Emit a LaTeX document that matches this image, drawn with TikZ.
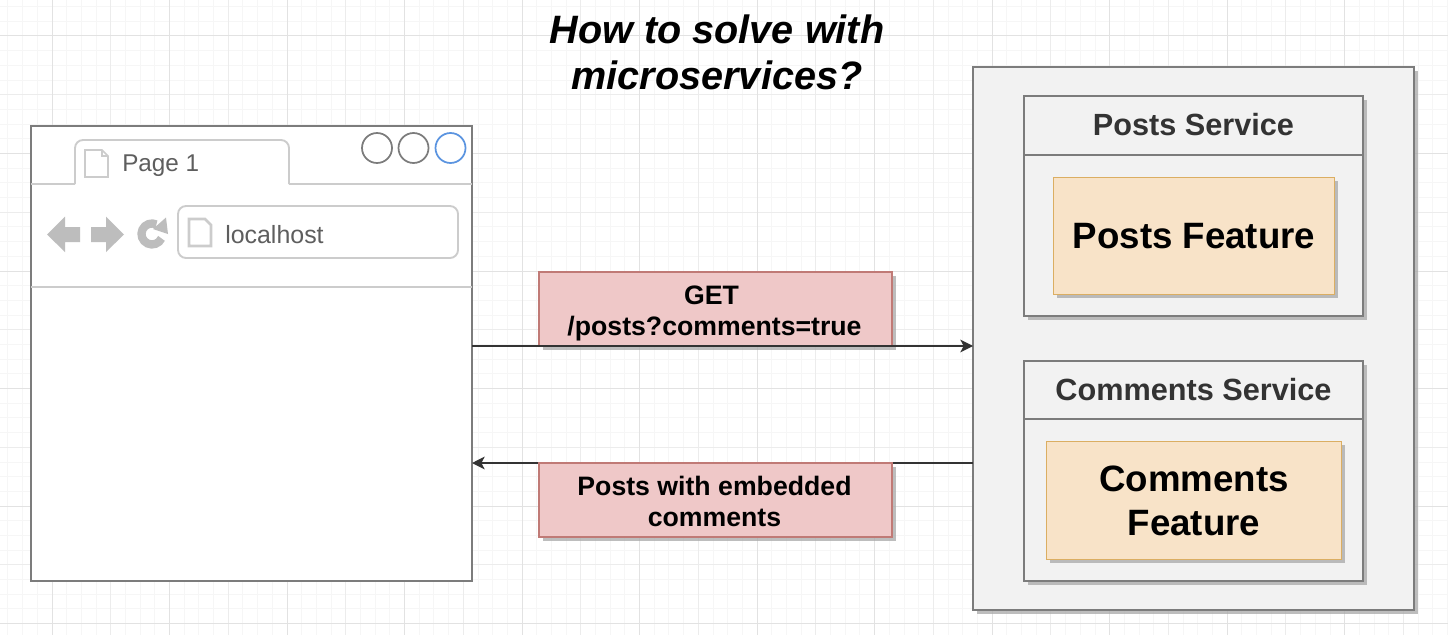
\documentclass[tikz,border=0pt]{standalone}
\usepackage{fontspec}
\setmainfont{Liberation Sans}
\usetikzlibrary{arrows.meta,calc}
\definecolor{gridmin}{HTML}{F6F6F6}
\definecolor{gridmaj}{HTML}{E2E2E2}
\definecolor{gridmid}{HTML}{ECECEC}
\definecolor{edgegray}{HTML}{7C7C7C}
\definecolor{iconfill}{HTML}{BDBDBD}
\definecolor{iconline}{HTML}{CCCCCC}
\definecolor{textgray}{HTML}{5E5E5E}
\definecolor{panel}{HTML}{F2F2F2}
\definecolor{shadowgray}{HTML}{A8A8A8}
\definecolor{redfill}{HTML}{EFC8C8}
\definecolor{rededge}{HTML}{C07A76}
\definecolor{orangefill}{HTML}{F8E3C8}
\definecolor{orangeedge}{HTML}{DBAE62}
\definecolor{titletext}{HTML}{333333}
\definecolor{dotblue}{HTML}{5B94E0}
\tikzset{
  box/.style={draw=#1,line width=1.4pt,anchor=north west,inner sep=0pt,outer sep=0pt,align=center},
  panelbox/.style={box=edgegray,fill=panel},
  redbox/.style={box=rededge,fill=redfill},
  redtext/.style={font=\bfseries\fontsize{20}{23.3}\selectfont,text=black,align=center,inner sep=0pt},
  featbox/.style={box=orangeedge,fill=orangefill,font=\bfseries\fontsize{27.5}{33}\selectfont,text=black},
  head/.style={font=\bfseries\fontsize{23}{28}\selectfont,text=titletext,inner sep=0pt},
  conn/.style={line width=1.3pt,draw=black!80,-{Stealth[length=9.5pt,width=9.5pt,inset=2.5pt]}},
  chrome/.style={draw=iconline,line width=1.4pt},
  icon/.style={fill=iconfill,draw=none},
  pageicon/.style={draw=iconline,line width=1.3pt,fill=white,line join=miter},
  shade/.style={fill=shadowgray,draw=none,opacity=.75},
  dot/.style={circle,draw=#1,line width=1.3pt,fill=white,minimum size=22.5pt,inner sep=0pt}
}
\begin{document}
\begin{tikzpicture}[x=0.75pt,y=-0.75pt]
\useasboundingbox (0,0) rectangle (1448,635);
\fill[white] (0,0) rectangle (1448,635);
% grid
\foreach \k in {-3,...,98} {\draw[gridmin,line width=.75pt] ({52+14.69*\k},0) -- ({52+14.69*\k},635);}
\foreach \k in {-2,...,42} {\draw[gridmin,line width=.75pt] (0,{36+14.69*\k}) -- (1448,{36+14.69*\k});}
\foreach \k in {1,3,...,23} {\draw[gridmid,line width=.75pt] ({52+58.75*\k},0) -- ({52+58.75*\k},635);}
\foreach \k in {1,3,...,9} {\draw[gridmid,line width=.75pt] (0,{36+58.75*\k}) -- (1448,{36+58.75*\k});}
\foreach \k in {0,2,...,24} {\draw[gridmaj,line width=.75pt] ({52+58.75*\k},0) -- ({52+58.75*\k},635);}
\foreach \k in {0,2,...,10} {\draw[gridmaj,line width=.75pt] (0,{36+58.75*\k}) -- (1448,{36+58.75*\k});}
% title
\node[font=\bfseries\itshape\fontsize{29.7}{34.5}\selectfont,align=center,inner sep=0pt,text=black] (title) at (717,52.5) {How to solve with\\microservices?};
% browser
\node[box=edgegray,fill=white,minimum width=441*0.75pt,minimum height=455*0.75pt] (browser) at (31,126) {};
\coordinate (tabL) at (75,184);
\coordinate (tabR) at (289,184);
\draw[chrome,rounded corners=6pt] (tabL) -- (75,140) -- (289,140) -- (tabR);
\draw[chrome] (browser.west |- tabL) -- (tabL);
\draw[chrome] (tabR) -- (browser.east |- tabR);
\coordinate (navY) at (0,287);
\draw[chrome] (browser.west |- navY) -- (browser.east |- navY);
\draw[pageicon] (85,150) -- (102,150) -- (108,156) -- (108,177) -- (85,177) -- cycle;
\draw[draw=iconline,line width=.8pt] (102,150) -- (102,156) -- (108,156);
\node[font=\fontsize{18.2}{22}\selectfont,text=textgray,anchor=west,inner sep=0pt] (tabtext) at (122,165.5) {Page 1};
\node[dot=edgegray] (c1) at (377,148) {};
\node[dot=edgegray] (c2) at (413.5,148) {};
\node[dot=dotblue] (c3) at (450.5,148) {};
% nav icons
\fill[icon] (47,234.5) -- (65,216.5) -- (65,227) -- (80,227) -- (80,242) -- (65,242) -- (65,252) -- cycle;
\fill[icon] (124,234.5) -- (106,216.5) -- (106,227) -- (91,227) -- (91,242) -- (106,242) -- (106,252) -- cycle;
\draw[iconfill,line width=6.2pt] (161.5,238.4) arc[start angle=25,end angle=295,radius=10.5];
\fill[iconfill] (166,217.5) -- (168,234) -- (153,229) -- cycle;
% address bar
\node[draw=iconline,line width=1.4pt,rounded corners=6pt,fill=white,anchor=north west,inner sep=0pt,outer sep=0pt,minimum width=280*0.75pt,minimum height=52*0.75pt] (addr) at (178,206) {};
\draw[pageicon,line width=2pt] (189,219) -- (205,219) -- (211,225) -- (211,246) -- (189,246) -- cycle;
\node[font=\fontsize{18.7}{22}\selectfont,text=textgray,anchor=west,inner sep=0pt] (addrtext) at (225,234.5) {localhost};
% outer panel
\fill[shade] (977,71) rectangle (1418,614);
\node[panelbox,minimum width=441*0.75pt,minimum height=543*0.75pt] (outer) at (973,67) {};
% posts service
\fill[shade] (1028,100) rectangle (1367,320);
\node[panelbox,minimum width=339*0.75pt,minimum height=220*0.75pt] (posts) at (1024,96) {};
\coordinate (postsY) at (0,155);
\draw[edgegray,line width=1.4pt] (posts.west |- postsY) -- (posts.east |- postsY);
\node[head] (postshead) at (1193.5,125) {Posts Service};
\fill[shade] (1057,181) rectangle (1338,298);
\node[featbox,minimum width=281*0.75pt,minimum height=117*0.75pt] (postsfeat) at (1053.5,177.5) {Posts Feature};
% comments service
\fill[shade] (1028,365) rectangle (1367,585);
\node[panelbox,minimum width=339*0.75pt,minimum height=220*0.75pt] (comments) at (1024,361) {};
\coordinate (commY) at (0,419);
\draw[edgegray,line width=1.4pt] (comments.west |- commY) -- (comments.east |- commY);
\node[head] (commentshead) at (1193.5,390) {Comments Service};
\fill[shade] (1050,445) rectangle (1345,563);
\node[featbox,minimum width=295*0.75pt,minimum height=118*0.75pt] (commentsfeat) at (1046.5,441.5) {Comments\\Feature};
% labels and connectors
\fill[shade] (543,276) rectangle (896,350);
\node[redbox,minimum width=353*0.75pt,minimum height=74*0.75pt] (get) at (539,272) {};
\node[redtext] (gettext) at ($(get.center)+(-1,4.5)$) {GET\hspace*{4.5pt}\\/posts?comments=true};
\draw[conn] (browser.east |- get.south) -- (outer.west |- get.south);
\coordinate (retY) at (0,463);
\draw[conn] (outer.west |- retY) -- (browser.east |- retY);
\fill[shade] (543,467) rectangle (896,541);
\node[redbox,minimum width=353*0.75pt,minimum height=74*0.75pt] (ret) at (539,463) {};
\node[redtext] (rettext) at ($(ret.center)+(-1,1.5)$) {Posts with embedded\\comments};
\end{tikzpicture}
\end{document}
